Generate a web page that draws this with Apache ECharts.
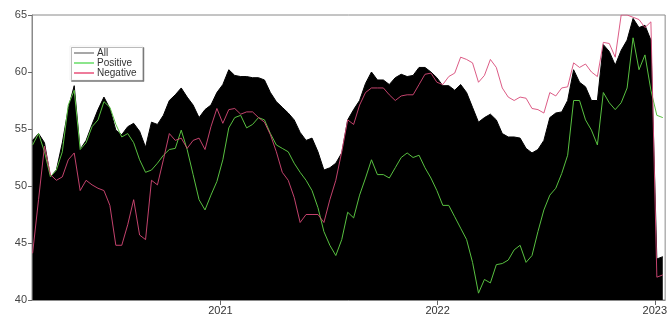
<!DOCTYPE html>
<html>
<head>
<meta charset="utf-8">
<script src="https://cdn.jsdelivr.net/npm/echarts@6/dist/echarts.min.js"></script>
<style>
  html, body { margin: 0; padding: 0; background: #fff; }
  #chart { width: 670px; height: 318px; }
</style>
</head>
<body>
<div id="chart"></div>
<script>
// one point every 10 days, starting 2020-02-20
const startDate = "2020-02-20";
const stepDays = 10;
const yearTicks = [2021, 2022, 2023];

const allVals = [
  54.0, 54.6, 53.8, 50.8, 51.4, 53.8, 56.8, 58.8, 53.2, 54.0,
  55.4, 56.7, 57.8, 56.8, 54.9, 54.5, 55.2, 55.5, 54.8, 53.4,
  55.6, 55.4, 56.2, 57.5, 58.0, 58.6, 57.8, 57.1, 56.0, 56.7,
  57.1, 58.2, 58.9, 60.2, 59.7, 59.6, 59.6, 59.5, 59.5, 59.3,
  58.2, 57.4, 56.9, 56.4, 55.8, 54.7, 54.0, 54.2, 53.0, 51.4,
  51.6, 52.0, 52.9, 55.8, 56.7, 57.5, 59.0, 60.0, 59.3, 59.3,
  58.9, 59.5, 59.8, 59.6, 59.7, 60.4, 60.4, 60.0, 59.5, 58.8,
  58.8, 58.4, 58.9, 58.2, 56.9, 55.6, 56.0, 56.3, 55.8, 54.6,
  54.3, 54.3, 54.2, 53.3, 52.9, 53.2, 54.0, 56.0, 56.4, 56.5,
  57.5, 60.2, 59.1, 58.7, 57.5, 57.5, 62.4, 61.8, 60.6, 61.9,
  62.8, 64.7, 63.9, 64.1, 62.8, 43.6, 43.8
];

const positiveVals = [
  53.6, 54.6, 53.0, 50.8, 51.4, 53.0, 57.1, 58.4, 53.2, 53.8,
  55.2, 55.8, 57.4, 56.9, 55.4, 54.3, 54.6, 53.8, 52.3, 51.2,
  51.4, 52.0, 52.7, 53.2, 53.3, 54.9, 53.2, 51.0, 48.8, 47.9,
  49.2, 50.4, 52.3, 55.1, 56.0, 56.2, 55.1, 55.4, 56.0, 55.8,
  54.6, 53.6, 53.3, 53.0, 52.0, 51.2, 50.5, 49.6, 48.1, 46.0,
  44.8, 43.9, 45.3, 47.7, 47.2, 49.2, 50.7, 52.3, 51.0, 51.0,
  50.7, 51.6, 52.5, 52.9, 52.5, 52.7, 51.6, 50.7, 49.6, 48.3,
  48.3, 47.3, 46.3, 45.3, 43.3, 40.6, 41.8, 41.5, 43.1, 43.2,
  43.5, 44.4, 44.8, 43.3, 43.9, 46.0, 47.9, 49.2, 49.8, 51.1,
  52.7, 57.5, 57.5, 55.8, 54.9, 53.6, 58.2, 57.3, 56.7, 57.3,
  58.6, 63.0, 60.2, 61.5, 58.4, 56.2, 56.0
];

const negativeVals = [
  44.1, 48.8, 53.5, 51.0, 50.5, 50.8, 52.3, 52.9, 49.6, 50.5,
  50.1, 49.8, 49.6, 48.3, 44.8, 44.8, 46.6, 48.8, 45.7, 45.3,
  50.5, 50.1, 52.3, 54.6, 54.0, 54.2, 53.3, 54.0, 54.2, 53.2,
  55.2, 56.8, 55.5, 56.7, 56.8, 56.3, 56.5, 56.5, 56.0, 55.6,
  54.5, 53.0, 51.2, 50.5, 49.0, 46.8, 47.5, 47.5, 47.5, 46.8,
  48.8, 50.5, 53.0, 55.8, 55.4, 57.1, 58.2, 58.6, 58.6, 58.6,
  58.0, 57.5, 57.9, 58.0, 58.0, 58.9, 59.8, 59.9, 59.1, 58.9,
  59.6, 59.9, 61.3, 61.1, 60.8, 59.1, 59.7, 61.1, 60.4, 58.6,
  57.8, 57.5, 57.8, 57.7, 56.8, 56.7, 56.4, 58.2, 57.9, 58.6,
  58.7, 60.8, 60.4, 60.7, 60.0, 59.6, 62.6, 62.5, 61.3, 65.0,
  65.0, 64.8, 64.6, 63.9, 64.4, 42.0, 42.2
];

// dates -> fractional years for the x scale
const dayMs = 86400000;
const t0 = Date.parse(startDate + "T00:00:00Z");
const y2021 = Date.UTC(2021, 0, 1);
const xs = allVals.map((v, i) => 2021 + (t0 + i * stepDays * dayMs - y2021) / (365.25 * dayMs));
const pairs = (arr) => arr.map((v, i) => [xs[i], v]);

var myChart = echarts.init(document.getElementById("chart"));
var option = {
  animation: false,
  backgroundColor: "#fff",
  textStyle: { fontFamily: "Liberation Sans, Arial, sans-serif" },
  grid: {
    left: 32,
    right: -2,
    top: 15,
    bottom: 18,
    show: true,
    borderColor: "#8a8a8a",
    borderWidth: 1,
  },
  legend: {
    orient: "vertical",
    left: 70,
    top: 46,
    padding: [2, 6, 2, 4],
    itemGap: 0,
    itemWidth: 20,
    itemHeight: 1.5,
    icon: "rect",
    backgroundColor: "#fff",
    borderColor: "#e4e4e4",
    borderWidth: 0.5,
    shadowColor: "#777",
    shadowOffsetX: 1.5,
    shadowOffsetY: 1.5,
    shadowBlur: 0,
    textStyle: { fontSize: 10, color: "#333", padding: [0, 0, 0, -2], lineHeight: 10 },
    data: [
      { name: "All", itemStyle: { color: "#8a8a8a" } },
      { name: "Positive", itemStyle: { color: "#66dd66" } },
      { name: "Negative", itemStyle: { color: "#e8507a" } },
    ],
  },
  xAxis: {
    type: "value",
    min: 2020.1321,
    max: 2023.0478,
    splitLine: { show: false },
    axisLine: { show: true, lineStyle: { color: "#8a8a8a" } },
    axisTick: {
      show: true,
      length: 5,
      customValues: yearTicks,
      lineStyle: { color: "#666" },
    },
    axisLabel: {
      customValues: yearTicks,
      fontSize: 11,
      color: "#333",
      margin: 5,
      formatter: (v) => String(Math.round(v)),
    },
  },
  yAxis: {
    type: "value",
    min: 40,
    max: 65,
    interval: 5,
    splitLine: { show: false },
    axisLine: { show: true, lineStyle: { color: "#8a8a8a" } },
    axisTick: { show: true, length: 4, lineStyle: { color: "#666" } },
    axisLabel: { fontSize: 11, color: "#444", margin: 5 },
  },
  series: [
    {
      name: "All",
      type: "line",
      data: pairs(allVals),
      showSymbol: false,
      lineStyle: { color: "#000", width: 1 },
      itemStyle: { color: "#8a8a8a" },
      areaStyle: { color: "#000", opacity: 1, origin: "start" },
      z: 1,
    },
    {
      name: "Positive",
      type: "line",
      data: pairs(positiveVals),
      showSymbol: false,
      lineStyle: { color: "#58c040", width: 1 },
      itemStyle: { color: "#66dd66" },
      z: 2,
    },
    {
      name: "Negative",
      type: "line",
      data: pairs(negativeVals),
      showSymbol: false,
      lineStyle: { color: "#d84a78", width: 0.9 },
      itemStyle: { color: "#e8507a" },
      z: 3,
    },
  ],
};
myChart.setOption(option);
</script>
</body>
</html>
